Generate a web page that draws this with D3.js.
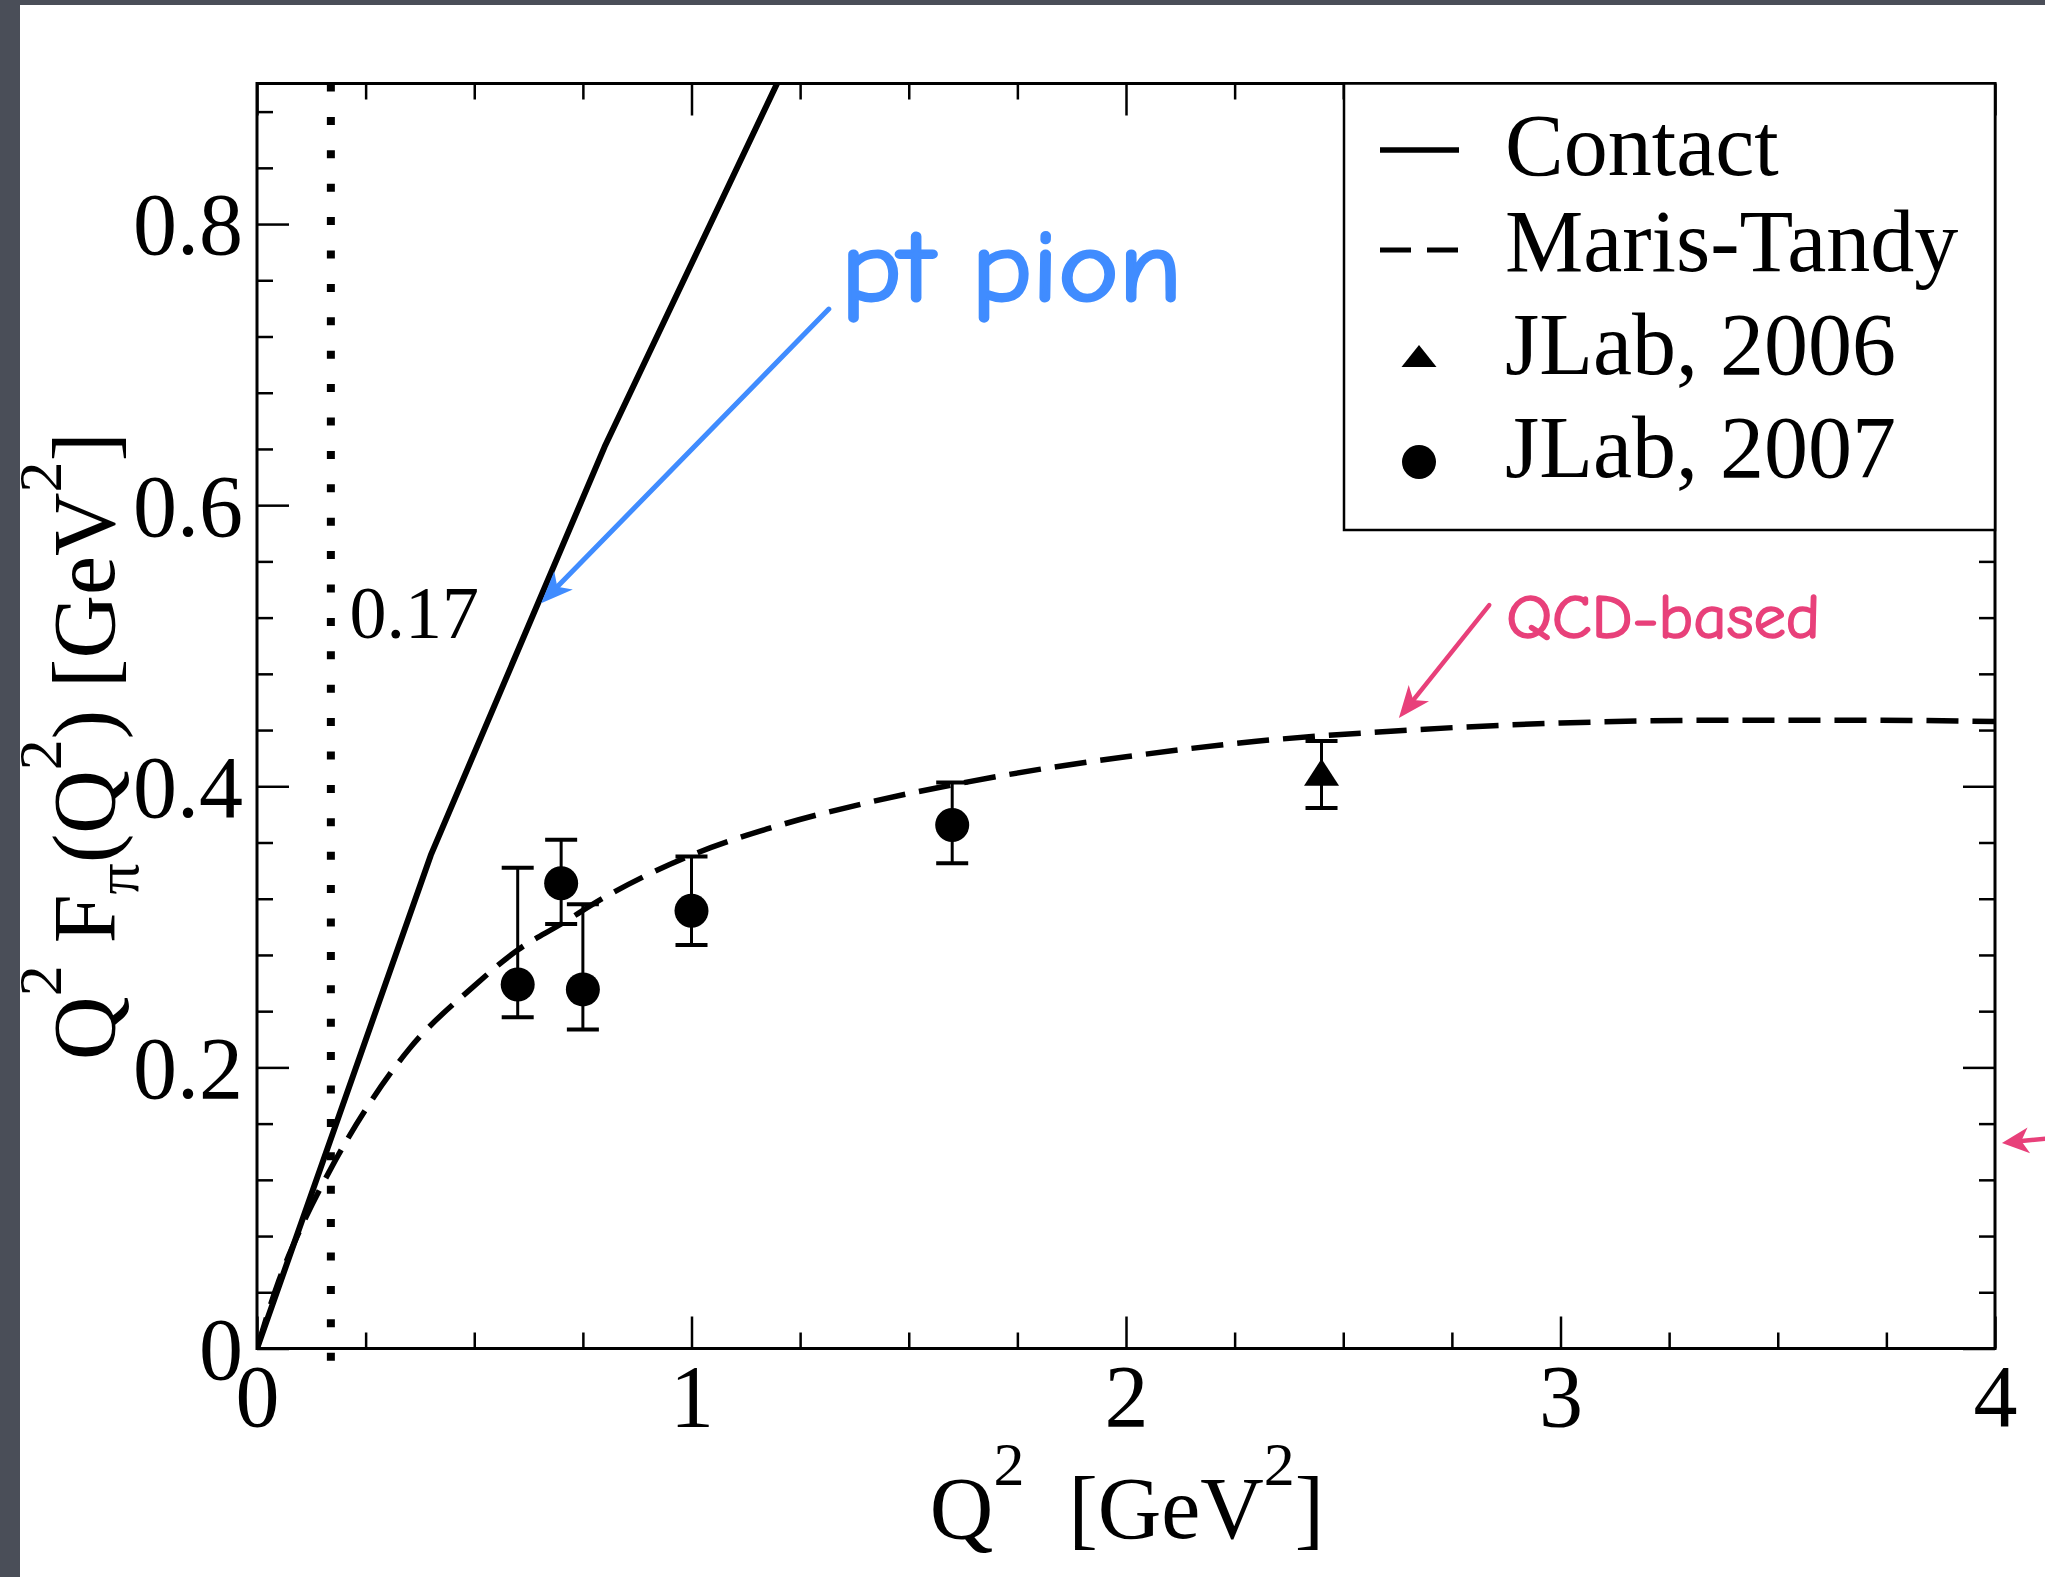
<!DOCTYPE html>
<html>
<head>
<meta charset="utf-8">
<script src="https://cdn.jsdelivr.net/npm/d3@7"></script>
<style>
  html, body { margin: 0; padding: 0; background: #ffffff; }
  svg { display: block; }
</style>
</head>
<body>
<svg id="chart" width="2045" height="1577"></svg>
<script>
// ---- data ---------------------------------------------------------------
const contactQ2  = [0, 0.4, 0.8, 1.2];
const contactVal = [0, 0.351, 0.6415, 0.902];

const marisQ2  = [0, 0.05, 0.1, 0.17, 0.25, 0.35, 0.5, 0.6, 0.7, 0.8, 1.0, 1.2, 1.4, 1.6, 1.8, 2.0, 2.3, 2.6, 3.0, 3.4, 3.7, 4.0];
const marisVal = [0, 0.048, 0.085, 0.128, 0.170, 0.213, 0.258, 0.2835, 0.302, 0.321, 0.351, 0.372, 0.388, 0.401, 0.412, 0.421, 0.432, 0.439, 0.445, 0.447, 0.447, 0.446];

const jlab2007Q2  = [0.60, 0.70, 0.75, 1.00, 1.60];
const jlab2007Val = [0.259, 0.331, 0.2555, 0.3115, 0.3724];
const jlab2007Hi  = [0.342, 0.362, 0.316, 0.350, 0.4027];
const jlab2007Lo  = [0.2356, 0.302, 0.227, 0.287, 0.3452];

const jlab2006Q2  = [2.45];
const jlab2006Val = [0.410];
const jlab2006Hi  = [0.4323];
const jlab2006Lo  = [0.3845];

const xTicks = [0, 1, 2, 3, 4];
const yTicks = [0, 0.2, 0.4, 0.6, 0.8];
const legendLabels = ["Contact", "Maris-Tandy", "JLab, 2006", "JLab, 2007"];
const markerQ2 = 0.17;
const markerLabel = "0.17";

// annotations, placed in data units (Q2, value)
const notes = [
  { text: "pt pion",   x: 1.344, y: 0.745,  color: "#408cff", size: 101, len: 341, weight: 3 },
  { text: "QCD-based", x: 2.875, y: 0.5055, color: "#e8407a", size: 62,  len: 314, weight: 1.6 }
];
const arrows = [
  { x1: 1.316, y1: 0.7395, x2: 0.654, y2: 0.5302, color: "#408cff", w: 5, head: 32, half: 13 },
  { x1: 2.836, y1: 0.5289, x2: 2.628, y2: 0.4485, color: "#e8407a", w: 4.5, head: 32, half: 13 },
  { x1: 4.12,  y1: 0.1494, x2: 4.016, y2: 0.1462, color: "#e8407a", w: 4.5, head: 27, half: 13 }
];

// ---- layout -------------------------------------------------------------
const svg = d3.select("#chart");
const W = 2045, H = 1577;
const plot = { left: 257, top: 83.5, right: 1995, bottom: 1348.5 };
const serif = "'Liberation Serif', 'Times New Roman', Times, serif";
const comic = "'Comic Sans MS', 'Comic Neue', 'DejaVu Sans', sans-serif";

const x = d3.scaleLinear().domain([0, 4]).range([plot.left, plot.right]);
const y = d3.scaleLinear().domain([0, 0.9]).range([plot.bottom, plot.top]);

// page background with dark slide border on the left and top
svg.append("rect").attr("width", W).attr("height", H).attr("fill", "#4a4e58");
svg.append("rect").attr("x", 20).attr("y", 5).attr("width", W - 20).attr("height", H - 5).attr("fill", "#ffffff");

svg.append("clipPath").attr("id", "plotClip")
  .append("rect")
  .attr("x", plot.left).attr("y", plot.top)
  .attr("width", plot.right - plot.left).attr("height", plot.bottom - plot.top);

// ---- vertical dotted marker --------------------------------------------
svg.append("line")
  .attr("x1", x(markerQ2)).attr("x2", x(markerQ2))
  .attr("y1", y(0.9)).attr("y2", y(0) + 13)
  .attr("stroke", "#000").attr("stroke-width", 8)
  .attr("stroke-dasharray", "8 25.4");

svg.append("text")
  .attr("x", x(0.213)).attr("y", y(0.5055))
  .attr("font-family", serif).attr("font-size", 74)
  .text(markerLabel);

// ---- curves -------------------------------------------------------------
const curves = svg.append("g").attr("clip-path", "url(#plotClip)");
const lineGen = d3.line().x(d => x(d[0])).y(d => y(d[1]));

curves.append("path")
  .datum(contactQ2.map((q, i) => [q, contactVal[i]]))
  .attr("d", lineGen)
  .attr("fill", "none").attr("stroke", "#000").attr("stroke-width", 6)
  .attr("stroke-linejoin", "round");

curves.append("path")
  .datum(marisQ2.map((q, i) => [q, marisVal[i]]))
  .attr("d", lineGen.curve(d3.curveMonotoneX))
  .attr("fill", "none").attr("stroke", "#000").attr("stroke-width", 5.5)
  .attr("stroke-dasharray", "32 14");

// ---- data points with error bars ---------------------------------------
function errorBars(qs, hi, lo) {
  const g = svg.append("g").attr("stroke", "#000");
  qs.forEach((q, i) => {
    g.append("line").attr("x1", x(q)).attr("x2", x(q))
      .attr("y1", y(hi[i])).attr("y2", y(lo[i])).attr("stroke-width", 3);
    [hi[i], lo[i]].forEach(v => {
      g.append("line").attr("x1", x(q) - 16).attr("x2", x(q) + 16)
        .attr("y1", y(v)).attr("y2", y(v)).attr("stroke-width", 4);
    });
  });
}
errorBars(jlab2007Q2, jlab2007Hi, jlab2007Lo);
errorBars(jlab2006Q2, jlab2006Hi, jlab2006Lo);

svg.append("g").selectAll("circle")
  .data(jlab2007Q2.map((q, i) => [q, jlab2007Val[i]]))
  .join("circle")
  .attr("cx", d => x(d[0])).attr("cy", d => y(d[1])).attr("r", 17)
  .attr("fill", "#000");

function triangle(cx, cy, w, h) {
  return `M${cx},${cy - h / 2}L${cx + w / 2},${cy + h / 2}L${cx - w / 2},${cy + h / 2}Z`;
}
svg.append("g").selectAll("path")
  .data(jlab2006Q2.map((q, i) => [q, jlab2006Val[i]]))
  .join("path")
  .attr("d", d => triangle(x(d[0]), y(d[1]), 35, 27))
  .attr("fill", "#000");

// ---- axes (inward ticks on all four sides) -----------------------------
const xMinor = d3.range(0, 17).filter(i => i % 4 !== 0).map(i => i * 0.25);
const yMinor = d3.range(0, 23).filter(i => i % 5 !== 0).map(i => i * 0.04);
const fmtY = d => d === 0 ? "0" : d.toFixed(1);

function axisGroup(axis, tx, ty) {
  const g = svg.append("g").attr("transform", `translate(${tx},${ty})`).call(axis);
  g.select(".domain").remove();
  g.selectAll(".tick line").attr("stroke", "#000").attr("stroke-width", 2.5);
  g.selectAll("text").attr("font-family", serif).attr("font-size", 88).attr("fill", "#000");
  return g;
}

// bottom
axisGroup(d3.axisBottom(x).tickValues(xTicks).tickSize(-32).tickPadding(15.5).tickFormat(d3.format("d")), 0, plot.bottom);
axisGroup(d3.axisBottom(x).tickValues(xMinor).tickSize(-16).tickFormat(""), 0, plot.bottom);
// top
axisGroup(d3.axisTop(x).tickValues(xTicks).tickSize(-32).tickFormat(""), 0, plot.top);
axisGroup(d3.axisTop(x).tickValues(xMinor).tickSize(-16).tickFormat(""), 0, plot.top);
// left
const yl = axisGroup(d3.axisLeft(y).tickValues(yTicks).tickSize(-32).tickPadding(14).tickFormat(fmtY), plot.left, 0);
yl.selectAll("text").attr("dy", "0.34em");
axisGroup(d3.axisLeft(y).tickValues(yMinor).tickSize(-16).tickFormat(""), plot.left, 0);
// right
axisGroup(d3.axisRight(y).tickValues(yTicks).tickSize(-32).tickFormat(""), plot.right, 0);
axisGroup(d3.axisRight(y).tickValues(yMinor).tickSize(-16).tickFormat(""), plot.right, 0);

// frame
svg.append("rect")
  .attr("x", plot.left).attr("y", plot.top)
  .attr("width", plot.right - plot.left).attr("height", plot.bottom - plot.top)
  .attr("fill", "none").attr("stroke", "#000").attr("stroke-width", 3);

// ---- legend -------------------------------------------------------------
const leg = svg.append("g");
leg.append("rect")
  .attr("x", 1344).attr("y", plot.top).attr("width", plot.right - 1344).attr("height", 530 - plot.top)
  .attr("fill", "#fff").attr("stroke", "#000").attr("stroke-width", 2.5);

const symY = [150, 250, 356, 462];
const txtY = [175, 271, 374, 477];
leg.append("line").attr("x1", 1380).attr("x2", 1459).attr("y1", symY[0]).attr("y2", symY[0])
  .attr("stroke", "#000").attr("stroke-width", 5.5);
leg.append("line").attr("x1", 1380).attr("x2", 1459).attr("y1", symY[1]).attr("y2", symY[1])
  .attr("stroke", "#000").attr("stroke-width", 5).attr("stroke-dasharray", "31 16");
leg.append("path").attr("d", triangle(1419, symY[2], 35, 22)).attr("fill", "#000");
leg.append("circle").attr("cx", 1419).attr("cy", symY[3]).attr("r", 17).attr("fill", "#000");
leg.selectAll("text.lab")
  .data(legendLabels)
  .join("text")
  .attr("class", "lab")
  .attr("x", 1505).attr("y", (d, i) => txtY[i])
  .attr("font-family", serif).attr("font-size", 88)
  .text(d => d);

// ---- axis titles --------------------------------------------------------
const xt = svg.append("text")
  .attr("x", 1127).attr("y", 1538)
  .attr("text-anchor", "middle")
  .attr("font-family", serif).attr("font-size", 88);
xt.append("tspan").text("Q");
xt.append("tspan").attr("font-size", 62).attr("dy", -53).text("2");
xt.append("tspan").attr("dy", 53).text("\u00a0\u00a0[GeV");
xt.append("tspan").attr("font-size", 62).attr("dy", -53).text("2");
xt.append("tspan").attr("dy", 53).text("]");

const yt = svg.append("text")
  .attr("transform", "translate(114,746) rotate(-90)")
  .attr("text-anchor", "middle")
  .attr("font-family", serif).attr("font-size", 88);
yt.append("tspan").text("Q");
yt.append("tspan").attr("font-size", 62).attr("dy", -53).text("2");
yt.append("tspan").attr("dy", 53).text("\u00a0F");
yt.append("tspan").attr("font-size", 62).attr("dy", 24).text("\u03c0");
yt.append("tspan").attr("dy", -24).text("(Q");
yt.append("tspan").attr("font-size", 62).attr("dy", -53).text("2");
yt.append("tspan").attr("dy", 53).text(")\u00a0[GeV");
yt.append("tspan").attr("font-size", 62).attr("dy", -53).text("2");
yt.append("tspan").attr("dy", 53).text("]");

// ---- annotations --------------------------------------------------------
notes.forEach(n => {
  svg.append("text")
    .attr("x", x(n.x)).attr("y", y(n.y))
    .attr("font-family", comic).attr("font-size", n.size)
    .attr("fill", n.color)
    .attr("stroke", n.color).attr("stroke-width", n.weight).attr("stroke-linejoin", "round")
    .attr("textLength", n.len).attr("lengthAdjust", "spacingAndGlyphs")
    .text(n.text);
});

arrows.forEach(a => {
  const x1 = x(a.x1), y1 = y(a.y1), x2 = x(a.x2), y2 = y(a.y2);
  const dx = x2 - x1, dy = y2 - y1, L = Math.hypot(dx, dy);
  const ux = dx / L, uy = dy / L, px = -uy, py = ux;
  const bx = x2 - ux * a.head, by = y2 - uy * a.head;
  const nx = x2 - ux * a.head * 0.72, ny = y2 - uy * a.head * 0.72;
  svg.append("line")
    .attr("x1", x1).attr("y1", y1).attr("x2", nx).attr("y2", ny)
    .attr("stroke", a.color).attr("stroke-width", a.w).attr("stroke-linecap", "round");
  svg.append("path")
    .attr("d", `M${x2},${y2}L${bx + px * a.half},${by + py * a.half}L${nx},${ny}L${bx - px * a.half},${by - py * a.half}Z`)
    .attr("fill", a.color);
});
</script>
</body>
</html>
